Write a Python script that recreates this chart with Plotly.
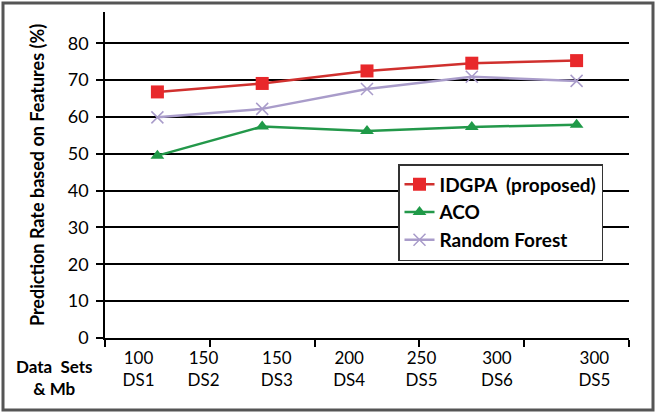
import plotly.graph_objects as go

# data
points = [0.5, 1.5, 2.5, 3.5, 4.5]
idgpa = [66.8, 69.1, 72.5, 74.6, 75.3]
aco = [49.5, 57.4, 56.2, 57.3, 57.9]
rf = [59.9, 62.2, 67.6, 70.9, 69.8]
label_pos = [0.32, 0.94, 1.64, 2.33, 3.02, 3.74, 4.67]
label_text = ["100<br>DS1", "150<br>DS2", "150<br>DS3", "200<br>DS4",
              "250<br>DS5", "300<br>DS6", "300<br>DS5"]
y_ticks = [0, 10, 20, 30, 40, 50, 60, 70, 80]

FONT = "Lato"
W, H = 656, 413
L, R, T, B = 105, 27, 12, 75

fig = go.Figure()
fig.add_trace(go.Scatter(x=points, y=idgpa, name="IDGPA  (proposed)", mode="lines+markers",
                         line=dict(color="#d0302e", width=2.5),
                         marker=dict(symbol="square", size=13, color="#e8282b")))
fig.add_trace(go.Scatter(x=points, y=aco, name="ACO", mode="lines+markers",
                         line=dict(color="#23984a", width=2.5),
                         marker=dict(symbol="triangle-up", size=12, color="#1f9a48")))
fig.add_trace(go.Scatter(x=points, y=rf, name="Random Forest", mode="lines+markers",
                         line=dict(color="#a99cca", width=2.5),
                         marker=dict(symbol="x-thin", size=12, color="#a99cca",
                                     line=dict(width=1.5, color="#a99cca"))))

pw = W - L - R
ph = H - T - B
fig.add_shape(type="rect", xref="paper", yref="paper",
              x0=(3 - L) / pw, x1=(653 - L) / pw,
              y0=(H - B - 410) / ph, y1=(H - B - 3) / ph,
              line=dict(color="#555555", width=3), layer="above")

fig.add_annotation(xref="paper", yref="paper", x=(54 - L) / pw, y=(H - B - 377) / ph,
                   xanchor="center", yanchor="middle",
                   text="<b>Data  Sets<br>& Mb</b>", showarrow=False,
                   font=dict(family=FONT, size=17, color="black"), align="center")

fig.update_layout(
    width=W, height=H, margin=dict(l=L, r=R, t=T, b=B, autoexpand=False),
    paper_bgcolor="white", plot_bgcolor="white",
    font=dict(family=FONT, color="black"),
    showlegend=True,
    legend=dict(x=(398 - L) / pw, y=(H - B - 164) / ph, xanchor="left", yanchor="top",
                bgcolor="white", bordercolor="#333333", borderwidth=1.5,
                font=dict(family=FONT, size=19, color="black", weight="bold"),
                itemwidth=30, tracegroupgap=0),
    xaxis=dict(range=[0, 5], showgrid=False, zeroline=False,
               showline=True, linecolor="black", linewidth=1.5,
               tickmode="array", tickvals=label_pos, ticktext=label_text,
               ticks="", tickfont=dict(family=FONT, size=17), ticklabelstandoff=4,
               minor=dict(tickmode="array", tickvals=[0, 1, 2, 3, 4, 5],
                          ticks="outside", ticklen=7, tickwidth=1.5, tickcolor="black",
                          showgrid=False)),
    yaxis=dict(range=[0, 88.5], tickmode="array", tickvals=y_ticks,
               showgrid=True, gridcolor="black", gridwidth=1.5, zeroline=False,
               showline=True, linecolor="black", linewidth=1.5,
               ticks="outside", ticklen=7, tickwidth=1.5, tickcolor="black",
               tickfont=dict(family=FONT, size=18), ticklabelstandoff=4,
               title=dict(text="<b>Prediction Rate based on Features (%)</b>",
                          font=dict(family=FONT, size=18), standoff=18)),
)

fig.write_html("out.html", config={"displayModeBar": False},
               post_script="document.body.style.margin='0';document.body.style.overflow='hidden';")
